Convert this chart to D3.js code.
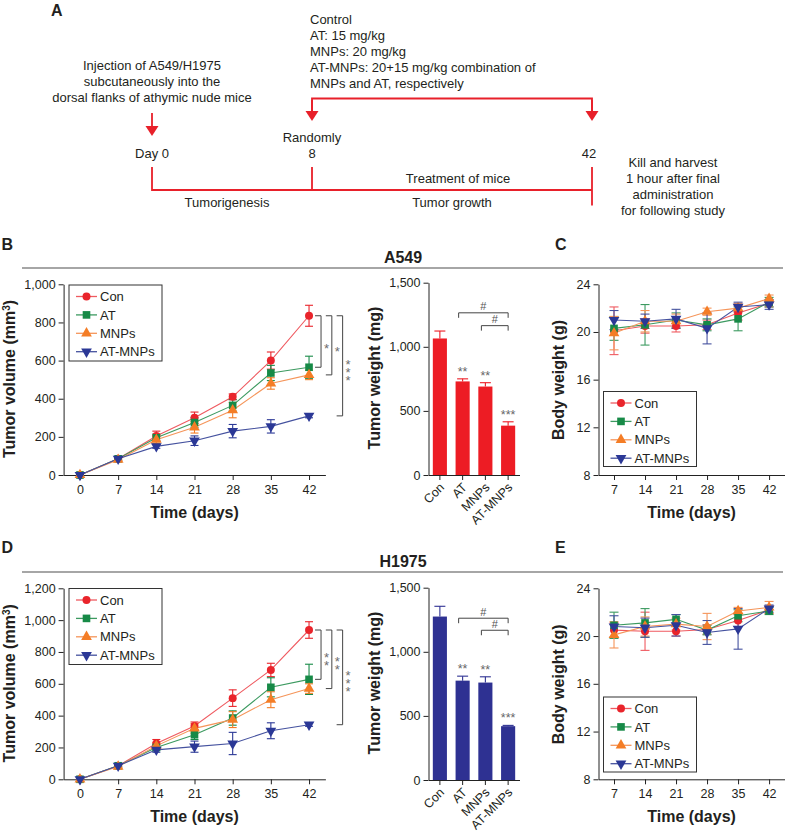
<!DOCTYPE html>
<html><head><meta charset="utf-8">
<script src="https://cdn.jsdelivr.net/npm/d3@7"></script>
<style>
body{margin:0;background:#fff;}
svg{font-family:"Liberation Sans",Arial,Helvetica,sans-serif;}
.vstar{writing-mode:vertical-rl;text-orientation:upright;letter-spacing:-7px;}
</style></head><body><svg id="fig" width="785" height="832"></svg>
<script>
// ---------------- DATA ----------------
const days = [0,7,14,21,28,35,42];
const bwDays = [7,14,21,28,35,42];
const groups = ["Con","AT","MNPs","AT-MNPs"];
const volTicksA549 = [0,200,400,600,800,1000];
const volTicksH1975 = [0,200,400,600,800,1000,1200];
const weightTicks = [0,500,1000,1500];
const bwTicks = [8,12,16,20,24];

// A549 tumor volume (mm3), rows = groups
const a549VolMean = [
  [0,85,205,300,410,600,835],
  [0,85,195,275,365,535,565],
  [0,80,185,250,340,480,525],
  [0,85,150,180,230,255,310]];
const a549VolErr = [
  [0,8,25,30,15,45,55],
  [0,8,20,25,30,40,58],
  [0,8,20,30,40,30,25],
  [0,6,10,25,35,35,10]];
const a549Sig = ["*","*","***"];          // Con vs AT, MNPs, AT-MNPs at day 42

// A549 tumor weight (mg)
const a549WeightMean = [1065,730,690,385];
const a549WeightErr = [58,20,30,30];
const a549WeightStars = ["","**","**","***"];
const a549Hash = [["AT","AT-MNPs",1265,"#"],["MNPs","AT-MNPs",1165,"#"]];

// A549 body weight (g)
const a549BwMean = [
  [20.1,20.5,20.5,20.6,21.6,22.4],
  [20.3,20.6,21.0,20.6,21.1,22.5],
  [19.9,20.9,20.9,21.7,22.0,22.8],
  [21.0,20.9,21.1,20.3,22.1,22.3]];
const a549BwErr = [
  [2.0,0.6,0.5,0.4,0.6,0.3],
  [1.0,1.7,0.6,0.5,1.0,0.4],
  [1.4,0.9,0.6,0.3,0.4,0.3],
  [0.8,0.6,0.8,1.3,0.4,0.4]];

// H1975 tumor volume (mm3)
const h1975VolMean = [
  [0,85,225,335,510,687,938],
  [0,85,200,280,385,578,628],
  [0,80,210,320,375,500,570],
  [0,85,185,205,225,305,343]];
const h1975VolErr = [
  [0,8,25,25,52,42,52],
  [0,8,20,30,45,60,95],
  [0,8,20,30,50,50,30],
  [0,6,15,35,70,50,10]];
const h1975Sig = ["**","**","***"];

// H1975 tumor weight (mg)
const h1975WeightMean = [1275,775,760,420];
const h1975WeightErr = [80,35,45,6];
const h1975WeightStars = ["","**","**","***"];
const h1975Hash = [["AT","AT-MNPs",1262,"#"],["MNPs","AT-MNPs",1168,"#"]];

// H1975 body weight (g)
const h1975BwMean = [
  [20.5,20.4,20.4,20.55,21.3,22.2],
  [20.9,21.1,21.4,20.5,21.7,22.1],
  [20.1,20.8,21.0,20.8,22.1,22.4],
  [20.8,20.7,20.9,20.3,20.6,22.3]];
const h1975BwErr = [
  [0.6,1.6,0.4,0.4,0.5,0.3],
  [1.1,1.2,0.4,0.4,0.5,0.3],
  [1.1,0.8,0.5,1.1,0.3,0.5],
  [0.9,0.8,0.9,1.0,1.7,0.3]];

// ---------------- STYLE ----------------
const FONT = '"Liberation Sans", Arial, Helvetica, sans-serif';
const TXT = "#231f20";
const RED = "#e8202a";
const colors = ["#e9242b","#178a47","#f47d26","#2b3896"];
const lineColors = ["#ef5a60","#3c9a60","#f5955a","#45529f"];
const symTypes = [d3.symbolCircle, d3.symbolSquare, d3.symbolTriangle, d3.symbolTriangle];
const symSizes = [50, 58, 50, 50];
const symRot = [0,0,0,180];

const svg = d3.select("#fig");
svg.append("rect").attr("width",785).attr("height",832).attr("fill","#fff");

function marker(g, i, x, y) {
  g.append("path").attr("d", d3.symbol(symTypes[i], symSizes[i])())
    .attr("transform", `translate(${x},${y}) rotate(${symRot[i]})`)
    .attr("fill", colors[i]);
}
function styleAxis(sel) {
  sel.attr("font-family", FONT);
  sel.selectAll("path,line").attr("stroke", "#222").attr("stroke-width", 1);
  sel.selectAll("text").attr("font-size", 12.5).attr("fill", TXT).attr("font-family", FONT);
}
function text(g, x, y, s, opts = {}) {
  const t = g.append("text").attr("x", x).attr("y", y).text(s)
    .attr("font-size", opts.size || 13).attr("fill", opts.fill || TXT)
    .attr("text-anchor", opts.anchor || "start");
  if (opts.bold) t.attr("font-weight", "bold");
  return t;
}
function yLabel(g, x, y, parts) {
  const t = g.append("text").attr("transform", `translate(${x},${y}) rotate(-90)`)
    .attr("text-anchor", "middle").attr("font-size", 16).attr("font-weight", "bold").attr("fill", TXT);
  parts.forEach(p => {
    const ts = t.append("tspan").text(p.t);
    if (p.sup) ts.attr("font-size", 10).attr("baseline-shift", "super");
  });
}
function errBar(g, x, y0, y1, color, cap, both = true) {
  g.append("line").attr("x1", x).attr("x2", x).attr("y1", y0).attr("y2", y1)
    .attr("stroke", color).attr("stroke-width", 1.1);
  g.append("line").attr("x1", x - cap/2).attr("x2", x + cap/2).attr("y1", y1).attr("y2", y1)
    .attr("stroke", color).attr("stroke-width", 1.1);
  if (both) g.append("line").attr("x1", x - cap/2).attr("x2", x + cap/2).attr("y1", y0).attr("y2", y0)
    .attr("stroke", color).attr("stroke-width", 1.1);
}
function legend(g, x0, y0, w, h) {
  g.append("rect").attr("x", x0).attr("y", y0).attr("width", w).attr("height", h)
    .attr("fill", "#fff").attr("stroke", "#333").attr("stroke-width", 1);
  groups.forEach((name, i) => {
    const yy = y0 + 11.5 + i * 18.4;
    g.append("line").attr("x1", x0 + 7).attr("x2", x0 + 28).attr("y1", yy).attr("y2", yy)
      .attr("stroke", lineColors[i]).attr("stroke-width", 1.3);
    marker(g, i, x0 + 17.5, yy);
    text(g, x0 + 31, yy, name, {size: 13}).attr("dy", "0.36em");
  });
}

// ---------------- line chart (tumor volume) ----------------
function volumeChart(cfg) {
  const g = svg.append("g");
  const x = d3.scaleLinear().domain([-3, 45]).range([63.6, 325.4]);
  const y = d3.scaleLinear().domain([0, cfg.ticks[cfg.ticks.length - 1]]).range([cfg.bottom, cfg.top]);
  g.append("g").attr("transform", `translate(0,${cfg.bottom})`)
    .call(d3.axisBottom(x).tickValues(days).tickSize(5).tickPadding(5).tickSizeOuter(0)).call(styleAxis);
  g.append("g").attr("transform", `translate(${x.range()[0]},0)`)
    .call(d3.axisLeft(y).tickValues(cfg.ticks).tickFormat(d3.format(",")).tickSize(5).tickPadding(3).tickSizeOuter(0)).call(styleAxis);
  cfg.mean.forEach((row, i) => {
    const pts = row.map((v, j) => ({d: days[j], v, e: cfg.err[i][j]}));
    g.append("path").datum(pts).attr("d", d3.line().x(p => x(p.d)).y(p => y(p.v)))
      .attr("fill", "none").attr("stroke", lineColors[i]).attr("stroke-width", 1.1);
    pts.forEach(p => { if (p.e > 0) errBar(g, x(p.d), y(p.v - p.e), y(p.v + p.e), colors[i], 8); });
  });
  cfg.mean.forEach((row, i) => row.forEach((v, j) => marker(g, i, x(days[j]), y(v))));
  // significance brackets vs Con at day 42 (stars written vertically)
  const last = days.length - 1;
  cfg.sig.forEach((lab, k) => {
    const bx = x(42) + 12 + k * 10.8;
    const yTop = y(cfg.mean[0][last]);
    const yBot = y(cfg.mean[k + 1][last]);
    g.append("path").attr("d", `M${bx - 6},${yTop}H${bx}V${yBot}H${bx - 6}`)
      .attr("fill", "none").attr("stroke", "#444").attr("stroke-width", 1);
    g.append("text").attr("class", "vstar").attr("x", bx + 5.5).attr("y", (yTop + yBot) / 2 + 3)
      .attr("text-anchor", "middle").attr("font-size", 13).attr("fill", "#6d6d6d").text(lab);
  });
  legend(g, 69, cfg.legendTop, 93, 76);
  text(g, (x.range()[0] + x.range()[1]) / 2, cfg.bottom + 42.5, "Time (days)", {size: 16, bold: true, anchor: "middle"});
  yLabel(g, 15, cfg.bottom - 96, [{t: "Tumor volume (mm"}, {t: "3", sup: true}, {t: ")"}]);
}

// ---------------- bar chart (tumor weight) ----------------
function weightChart(cfg) {
  const g = svg.append("g");
  const x = d3.scaleBand().domain(groups).range([428.5, 519.5]).paddingInner(0.38).paddingOuter(0.19);
  const y = d3.scaleLinear().domain([0, 1500]).range([cfg.bottom, cfg.top]);
  const bw = x.bandwidth();
  groups.forEach((gr, i) => {
    const v = cfg.mean[i], e = cfg.err[i];
    g.append("rect").attr("x", x(gr)).attr("y", y(v)).attr("width", bw).attr("height", cfg.bottom - y(v))
      .attr("fill", cfg.color);
    errBar(g, x(gr) + bw / 2, y(v), y(v + e), cfg.color, 11, false);
    if (cfg.stars[i]) g.append("text").attr("x", x(gr) + bw / 2).attr("y", y(v + e) - 3)
      .attr("text-anchor", "middle").attr("font-size", 12.5).attr("fill", "#666").text(cfg.stars[i]);
  });
  g.append("g").attr("transform", `translate(${x.range()[0]},0)`)
    .call(d3.axisLeft(y).tickValues(weightTicks).tickFormat(d3.format(",")).tickSize(5).tickPadding(3).tickSizeOuter(0)).call(styleAxis);
  const xa = g.append("g").attr("transform", `translate(0,${cfg.bottom})`)
    .call(d3.axisBottom(x).tickSize(5).tickSizeOuter(0)).call(styleAxis);
  xa.selectAll("text").attr("text-anchor", "end").attr("x", -5.6).attr("y", 8.5).attr("dy", "0.35em")
    .attr("transform", "rotate(-45)");
  cfg.hash.forEach(([a, b, lvl, lab]) => {
    const x1 = x(a) + bw / 2 - 4, x2 = x(b) + bw / 2, yy = y(lvl);
    g.append("path").attr("d", `M${x1},${yy + 5}V${yy}H${x2}V${yy + 5}`)
      .attr("fill", "none").attr("stroke", "#444").attr("stroke-width", 1);
    g.append("text").attr("x", (x1 + x2) / 2).attr("y", yy - 2.5).attr("text-anchor", "middle")
      .attr("font-size", 11).attr("fill", "#555").text(lab);
  });
  yLabel(g, 380, cfg.bottom - 97, [{t: "Tumor weight (mg)"}]);
}

// ---------------- body weight chart ----------------
function bodyChart(cfg) {
  const g = svg.append("g");
  const x = d3.scaleLinear().domain([3.5, 45.5]).range([598.5, 784.6]);
  const y = d3.scaleLinear().domain([8, 24]).range([cfg.bottom, cfg.top]);
  g.append("g").attr("transform", `translate(0,${cfg.bottom})`)
    .call(d3.axisBottom(x).tickValues(bwDays).tickSize(5).tickPadding(5).tickSizeOuter(0)).call(styleAxis);
  g.append("g").attr("transform", `translate(${x.range()[0]},0)`)
    .call(d3.axisLeft(y).tickValues(bwTicks).tickSize(5).tickPadding(3).tickSizeOuter(0)).call(styleAxis);
  cfg.mean.forEach((row, i) => {
    const pts = row.map((v, j) => ({d: bwDays[j], v, e: cfg.err[i][j]}));
    g.append("path").datum(pts).attr("d", d3.line().x(p => x(p.d)).y(p => y(p.v)))
      .attr("fill", "none").attr("stroke", lineColors[i]).attr("stroke-width", 1.1);
    pts.forEach(p => errBar(g, x(p.d), y(p.v - p.e), y(p.v + p.e), lineColors[i], 9));
  });
  cfg.mean.forEach((row, i) => row.forEach((v, j) => marker(g, i, x(bwDays[j]), y(v))));
  legend(g, 603.5, cfg.legendTop, 93, 75);
  text(g, (x.range()[0] + x.range()[1]) / 2, cfg.bottom + 42.5, "Time (days)", {size: 16, bold: true, anchor: "middle"});
  yLabel(g, 564, cfg.bottom - 95, [{t: "Body weight (g)"}]);
}

// ---------------- panel A (schematic) ----------------
(function panelA() {
  const g = svg.append("g");
  text(g, 51, 15.5, "A", {size: 16, bold: true});
  const tl = {day0: 152, rand: 312, end: 592};
  ["Control", "AT: 15 mg/kg", "MNPs: 20 mg/kg", "AT-MNPs: 20+15 mg/kg combination of", "MNPs and AT, respectively"]
    .forEach((s, i) => text(g, 310, 24 + i * 16, s, {size: 13}));
  ["Injection of A549/H1975", "subcutaneously into the", "dorsal flanks of athymic nude mice"]
    .forEach((s, i) => text(g, tl.day0, 69.5 + i * 16, s, {size: 13, anchor: "middle"}));
  const arrow = (x, y0, y1) => {
    g.append("line").attr("x1", x).attr("x2", x).attr("y1", y0).attr("y2", y1 - 8)
      .attr("stroke", RED).attr("stroke-width", 1.8);
    g.append("path").attr("d", `M${x - 6.5},${y1 - 10}L${x + 6.5},${y1 - 10}L${x},${y1}Z`).attr("fill", RED);
  };
  arrow(tl.day0, 113, 136);
  g.append("path").attr("d", `M${tl.rand},${112}V98.5H${tl.end}V112`).attr("fill", "none")
    .attr("stroke", RED).attr("stroke-width", 1.8);
  arrow(tl.rand, 100, 121);
  arrow(tl.end, 100, 121);
  text(g, tl.day0, 158, "Day 0", {anchor: "middle"});
  text(g, tl.rand, 141.5, "Randomly", {anchor: "middle"});
  text(g, tl.rand, 158, "8", {anchor: "middle"});
  text(g, tl.end - 3, 158, "42", {anchor: "middle"});
  g.append("path").attr("d", `M${tl.day0},167V190H${tl.end}M${tl.rand},167V190M${tl.end},167V205.5`)
    .attr("fill", "none").attr("stroke", RED).attr("stroke-width", 1.8);
  text(g, 458, 182.5, "Treatment of mice", {anchor: "middle"});
  text(g, 227, 206.5, "Tumorigenesis", {anchor: "middle"});
  text(g, 452, 206.5, "Tumor growth", {anchor: "middle"});
  ["Kill and harvest", "1 hour after final", "administration", "for following study"]
    .forEach((s, i) => text(g, 673, 167 + i * 16, s, {anchor: "middle"}));
})();

// ---------------- rows B/C and D/E ----------------
function rowHeader(yLine, yTitle, title, l1, l2, yLetter) {
  const g = svg.append("g");
  g.append("line").attr("x1", 22).attr("x2", 783).attr("y1", yLine).attr("y2", yLine)
    .attr("stroke", "#888").attr("stroke-width", 1.3);
  text(g, 403, yTitle, title, {size: 16, bold: true, anchor: "middle"});
  text(g, 1.5, yLetter, l1, {size: 16, bold: true});
  text(g, 555, yLetter, l2, {size: 16, bold: true});
}
rowHeader(268, 262.5, "A549", "B", "C", 250);
rowHeader(572, 567, "H1975", "D", "E", 552.5);

volumeChart({mean: a549VolMean, err: a549VolErr, ticks: volTicksA549, bottom: 475, top: 284.3, sig: a549Sig, legendTop: 285});
weightChart({mean: a549WeightMean, err: a549WeightErr, stars: a549WeightStars, hash: a549Hash, bottom: 475, top: 282.7, color: "#ed1c24"});
bodyChart({mean: a549BwMean, err: a549BwErr, bottom: 475, top: 284.3, legendTop: 391.5});

volumeChart({mean: h1975VolMean, err: h1975VolErr, ticks: volTicksH1975, bottom: 779.3, top: 588.3, sig: h1975Sig, legendTop: 588.5});
weightChart({mean: h1975WeightMean, err: h1975WeightErr, stars: h1975WeightStars, hash: h1975Hash, bottom: 780, top: 587.7, color: "#2e3192"});
bodyChart({mean: h1975BwMean, err: h1975BwErr, bottom: 779.3, top: 588.3, legendTop: 697});
</script></body></html>
